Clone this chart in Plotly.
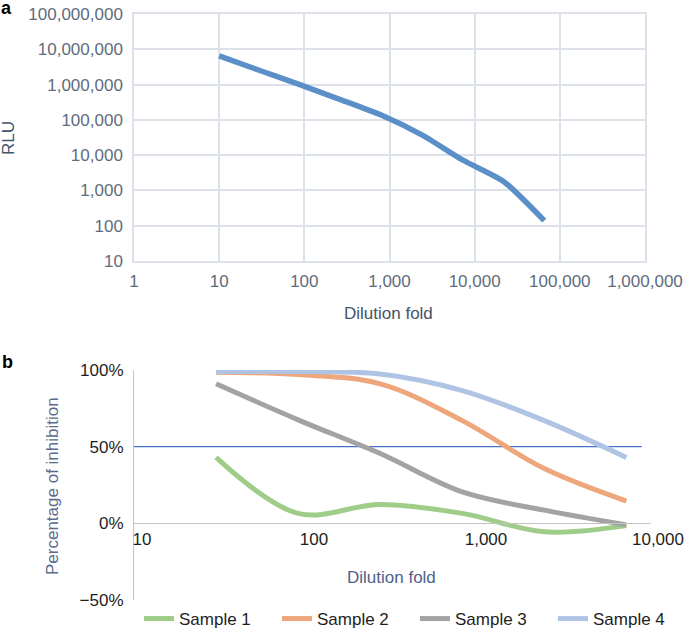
'''
    Two-panel dilution chart: RLU vs dilution fold (a) and
    percentage of inhibition for four samples (b).
'''
import plotly.graph_objects as go

W, H = 685, 634

# panel a
dilution_a = [10, 30, 90, 270, 810, 2430, 7290, 21870, 65610]
rlu = [6500000, 2500000, 980000, 370000, 135000, 37000, 7200, 1800, 140]
ticks_a_x = [1, 10, 100, 1000, 10000, 100000, 1000000]
ticks_a_x_text = ['1', '10', '100', '1,000', '10,000', '100,000', '1,000,000']
ticks_a_y = [10, 100, 1000, 10000, 100000, 1000000, 10000000, 100000000]
ticks_a_y_text = ['10', '100', '1,000', '10,000', '100,000', '1,000,000',
                  '10,000,000', '100,000,000']

# panel b
dilution_b = [30, 90, 270, 810, 2430, 7290]
sample_1 = [43, 6.5, 12.3, 6.5, -5.5, -1.5]
sample_2 = [98.5, 97, 91, 67, 35.7, 14.5]
sample_3 = [91, 67.5, 45.5, 20.5, 8.6, -1]
sample_4 = [99, 99, 97.4, 86.6, 67, 43]
sample_names = ['Sample 1', 'Sample 2', 'Sample 3', 'Sample 4']
threshold_x = [10, 8950]
threshold_y = [50, 50]
ticks_b_x = [10, 100, 1000, 10000]
ticks_b_x_text = ['10', '100', '1,000', '10,000']
ticks_b_y = [-50, 0, 50, 100]
ticks_b_y_text = ['\u221250%', '0%', '50%', '100%']

SAMPLE_COLORS = ['#9fcd89', '#eea77c', '#a3a3a3', '#afc4e5']
FONT = 'Liberation Sans, Arial, sans-serif'
GRID = '#dde2ea'


def px_x(px):
    return px / W


def px_y(px):
    return 1 - px / H


def label(text, x, y, color, angle=0, size=17):
    return dict(text=text, x=px_x(x), y=px_y(y), xref='paper', yref='paper',
                xanchor='center', yanchor='middle', textangle=angle,
                showarrow=False, font=dict(size=size, color=color))


fig = go.Figure()

fig.add_trace(go.Scatter(
    x=dilution_a, y=rlu, mode='lines', xaxis='x', yaxis='y',
    line=dict(color='#5a8fc8', width=5.5, shape='spline', smoothing=0.6),
    showlegend=False
))

fig.add_trace(go.Scatter(
    x=threshold_x, y=threshold_y, mode='lines', xaxis='x2', yaxis='y2',
    line=dict(color='#4472c4', width=1.3), showlegend=False
))

for name, values, color in zip(sample_names,
                               [sample_1, sample_2, sample_3, sample_4],
                               SAMPLE_COLORS):
    fig.add_trace(go.Scatter(
        x=dilution_b, y=values, mode='lines', name=name,
        xaxis='x2', yaxis='y2',
        line=dict(color=color, width=5, shape='spline', smoothing=1)
    ))

fig.update_layout(
    width=W, height=H,
    margin=dict(l=0, r=0, t=0, b=0, autoexpand=False),
    paper_bgcolor='white', plot_bgcolor='white',
    font=dict(family=FONT, size=17, color='#222222'),
    xaxis=dict(
        type='log', range=[0, 6], domain=[px_x(134), px_x(645)],
        anchor='y', tickvals=ticks_a_x, ticktext=ticks_a_x_text,
        showgrid=True, gridcolor=GRID, gridwidth=1.5,
        showline=True, linecolor=GRID, linewidth=1.5, mirror=True,
        ticks='', tickfont=dict(color='#5f6b7c', size=17),
        ticklabelstandoff=4, zeroline=False
    ),
    yaxis=dict(
        type='log', range=[1, 8], domain=[px_y(261), px_y(14)],
        anchor='x', tickvals=ticks_a_y, ticktext=ticks_a_y_text,
        showgrid=True, gridcolor=GRID, gridwidth=1.5,
        showline=True, linecolor=GRID, linewidth=1.5, mirror=True,
        ticks='', tickfont=dict(color='#5f6b7c', size=17),
        ticklabelstandoff=6, zeroline=False
    ),
    xaxis2=dict(
        type='log', range=[1, 4.003], domain=[px_x(134), px_x(650.5)],
        anchor='free', position=px_y(523),
        tickvals=ticks_b_x, ticktext=ticks_b_x_text, ticklabelshift=8,
        ticklabeloverflow='allow',
        showgrid=False, showline=True, linecolor='#c4c4c4', linewidth=1.2,
        ticks='', tickfont=dict(color='#1e1e1e', size=17),
        zeroline=False
    ),
    yaxis2=dict(
        range=[-50, 100], domain=[px_y(600), px_y(370)],
        anchor='x2', tickvals=ticks_b_y, ticktext=ticks_b_y_text,
        showgrid=False, showline=True, linecolor='#c4c4c4', linewidth=1.2,
        ticks='', tickfont=dict(color='#1e1e1e', size=17),
        ticklabelstandoff=6, zeroline=False
    ),
    legend=dict(
        orientation='h', x=px_x(139), y=px_y(601),
        xanchor='left', yanchor='top',
        font=dict(size=17, color='#1e1e1e'),
        entrywidth=93, entrywidthmode='pixels',
        bgcolor='rgba(0,0,0,0)'
    ),
    annotations=[
        label('<b>a</b>', 6, 8, 'black', size=18),
        label('<b>b</b>', 8, 362, 'black', size=18),
        label('RLU', 8, 138, '#44546a', angle=-90),
        label('Dilution fold', 388, 313, '#44546a'),
        label('Percentage of inhibition', 52, 486, '#5a6b8c', angle=-90),
        label('Dilution fold', 392, 577, '#4e6189'),
    ]
)

# drop the browser's default page margin so the figure sits at the window's corner
fig.write_html(
    'out.html',
    config={'displayModeBar': False},
    post_script="document.body.style.margin='0';document.body.style.overflow='hidden';"
)
